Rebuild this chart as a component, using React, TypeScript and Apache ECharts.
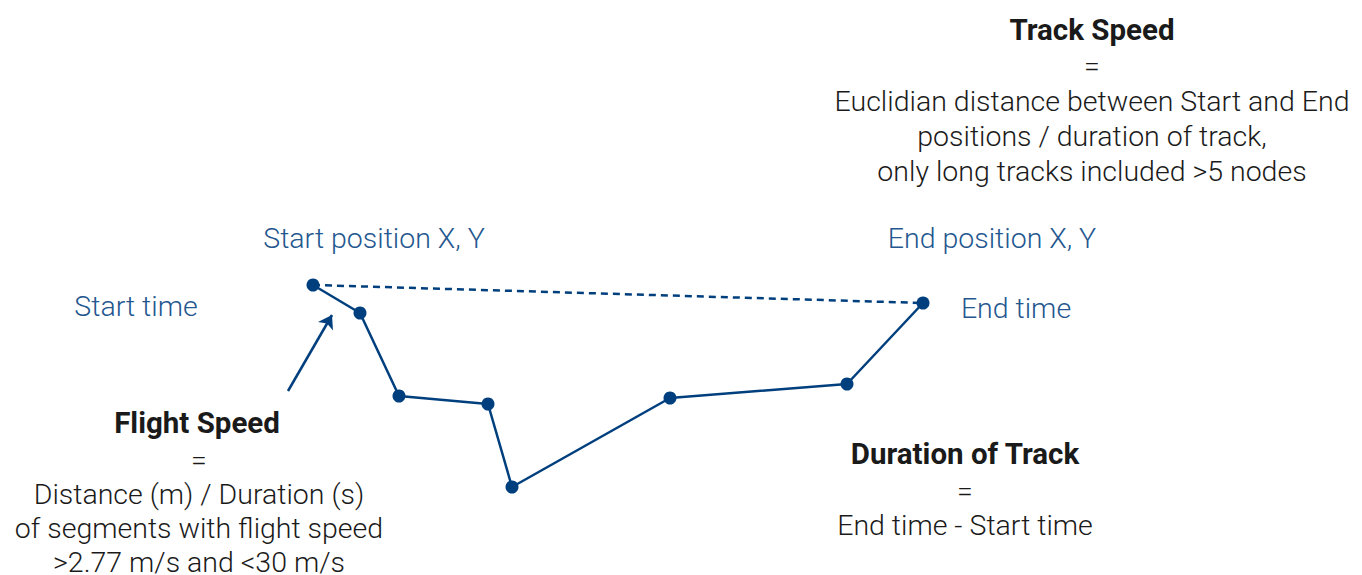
import React, { useEffect, useRef } from "react";
import * as echarts from "echarts";

// Track nodes (x to the right, y downward, in picture units)
const nodeX = [313, 360, 399, 488, 512, 670, 847, 923];
const nodeY = [285, 313, 396, 404, 487, 398, 384, 303];

// Straight start-to-end connection (dashed)
const directX = [313, 923];
const directY = [285, 303];

// Annotation arrow (tail -> head)
const arrowFrom = [288, 391];
const arrowTo = [332, 315];

const trackSpeedLines = [
  "=",
  "Euclidian distance between Start and End",
  "positions / duration of track,",
  "only long tracks included >5 nodes",
];
const flightSpeedLines = [
  "=",
  "Distance (m) / Duration (s)",
  "of segments with flight speed",
  ">2.77 m/s and <30 m/s",
];
const durationLines = ["=", "End time - Start time"];

const W = 1362;
const H = 575;
const FONT = "Roboto, 'DejaVu Sans', sans-serif";
const BLUE = "#003f7d";
const LABEL_BLUE = "#24578f";
const DARK = "#1a1a1a";

function textEl(text: string, x: number, y: number, opts: any = {}) {
  return {
    type: "text",
    x,
    y,
    style: {
      text,
      fill: opts.fill || DARK,
      font: `${opts.bold ? "bold 29.5" : "300 28.5"}px ${FONT}`,
      textAlign: opts.align || "center",
      textVerticalAlign: "middle",
    },
  };
}

export default function App() {
  const ref = useRef<HTMLDivElement>(null);
  useEffect(() => {
    if (!ref.current) return;
    const chart = echarts.init(ref.current, null, { renderer: "svg" });

    const trackData = nodeX.map((x, i) => [x, nodeY[i]]);
    const directData = directX.map((x, i) => [x, directY[i]]);

    const graphics: any[] = [];
    graphics.push(textEl("Track Speed", 1092, 30, { bold: true }));
    trackSpeedLines.forEach((t, i) => graphics.push(textEl(t, 1092, 66 + i * 35.3)));
    graphics.push(textEl("Flight Speed", 197, 423, { bold: true }));
    flightSpeedLines.forEach((t, i) => graphics.push(textEl(t, 199, 460 + i * 34.3)));
    graphics.push(textEl("Duration of Track", 965, 454, { bold: true }));
    durationLines.forEach((t, i) => graphics.push(textEl(t, 965, 491 + i * 34.5)));
    graphics.push(textEl("Start position X, Y", 374, 238, { fill: LABEL_BLUE }));
    graphics.push(textEl("End position X, Y", 992, 238, { fill: LABEL_BLUE }));
    graphics.push(textEl("Start time", 136, 306, { fill: LABEL_BLUE }));
    graphics.push(textEl("End time", 1016, 308, { fill: LABEL_BLUE }));

    chart.setOption({
      animation: false,
      backgroundColor: "#ffffff",
      grid: { left: 0, right: 0, top: 0, bottom: 0 },
      xAxis: { type: "value", min: 0, max: W, show: false },
      yAxis: { type: "value", min: 0, max: H, inverse: true, show: false },
      series: [
        {
          type: "line",
          data: directData,
          showSymbol: false,
          symbol: "none",
          lineStyle: { color: BLUE, width: 2.5, type: [7, 5] },
          z: 1,
        },
        {
          type: "line",
          data: trackData,
          symbol: "circle",
          symbolSize: 13,
          showSymbol: true,
          itemStyle: { color: BLUE },
          lineStyle: { color: BLUE, width: 2.5 },
          z: 2,
        },
        {
          type: "lines",
          coordinateSystem: "cartesian2d",
          symbol: ["none", "arrow"],
          symbolSize: 13,
          lineStyle: { color: BLUE, width: 2.5, opacity: 1 },
          data: [{ coords: [arrowFrom, arrowTo] }],
          z: 3,
        },
      ],
      graphic: graphics,
    });
    return () => chart.dispose();
  }, []);
  return (
    <div
      ref={ref}
      style={{ position: "absolute", left: 0, top: 0, width: W, height: H, background: "#fff" }}
    />
  );
}
